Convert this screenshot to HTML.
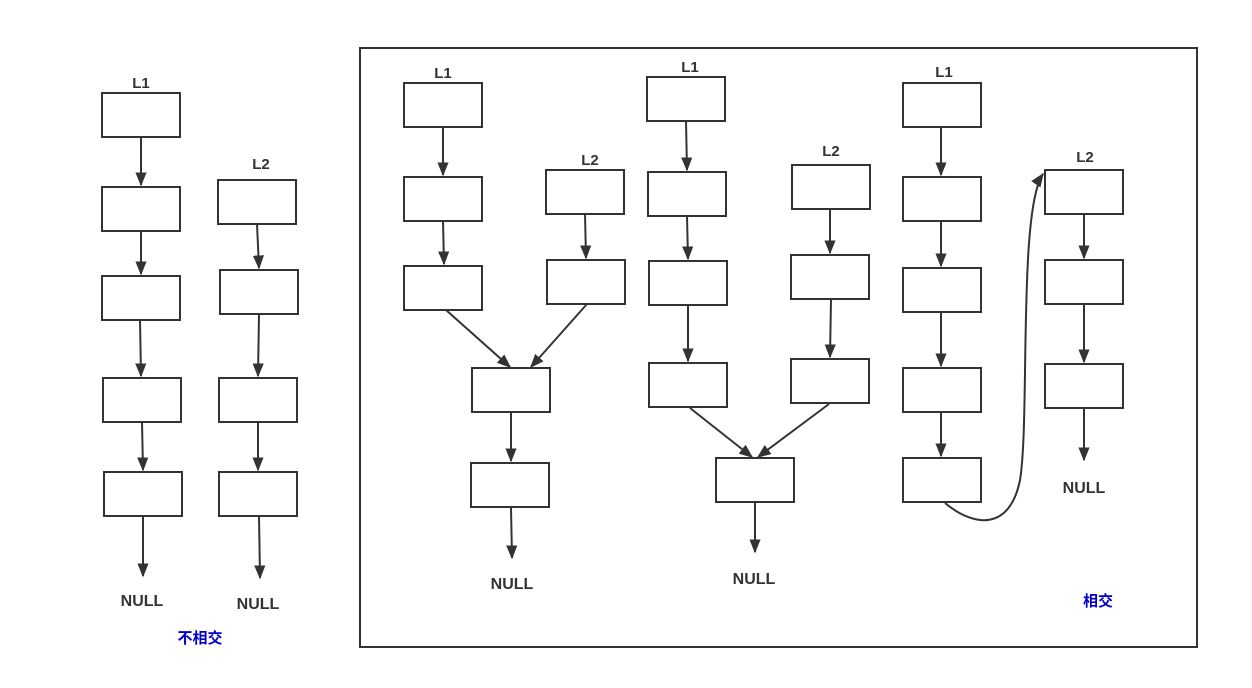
<!DOCTYPE html>
<html><head><meta charset="utf-8"><style>
html,body{margin:0;padding:0;background:#fff;width:1252px;height:688px;overflow:hidden}
text{font-family:"Liberation Sans","Noto Sans CJK SC",sans-serif;font-weight:bold}
</style></head><body>
<svg width="1252" height="688" viewBox="0 0 1252 688" xmlns="http://www.w3.org/2000/svg">
<defs><marker id="a" markerWidth="10" markerHeight="10" refX="9" refY="5" orient="auto" markerUnits="userSpaceOnUse"><path d="M0,0 L10,5 L0,10 Z" fill="#333"/></marker>
<marker id="b" viewBox="0 0 10 10" markerWidth="14" markerHeight="14" refX="9" refY="5" orient="auto" markerUnits="userSpaceOnUse"><path d="M0,1 L10,5 L0,9 Z" fill="#333"/></marker></defs>
<rect x="360" y="48" width="837" height="599" fill="none" stroke="#333" stroke-width="2"/>
<g fill="none" stroke="#333" stroke-width="2">
<rect x="102" y="93" width="78" height="44"/><rect x="102" y="187" width="78" height="44"/><rect x="102" y="276" width="78" height="44"/><rect x="103" y="378" width="78" height="44"/><rect x="104" y="472" width="78" height="44"/>
<rect x="218" y="180" width="78" height="44"/><rect x="220" y="270" width="78" height="44"/><rect x="219" y="378" width="78" height="44"/><rect x="219" y="472" width="78" height="44"/>
<rect x="404" y="83" width="78" height="44"/><rect x="404" y="177" width="78" height="44"/><rect x="404" y="266" width="78" height="44"/>
<rect x="546" y="170" width="78" height="44"/><rect x="547" y="260" width="78" height="44"/>
<rect x="472" y="368" width="78" height="44"/><rect x="471" y="463" width="78" height="44"/>
<rect x="647" y="77" width="78" height="44"/><rect x="648" y="172" width="78" height="44"/><rect x="649" y="261" width="78" height="44"/><rect x="649" y="363" width="78" height="44"/>
<rect x="792" y="165" width="78" height="44"/><rect x="791" y="255" width="78" height="44"/><rect x="791" y="359" width="78" height="44"/>
<rect x="716" y="458" width="78" height="44"/>
<rect x="903" y="83" width="78" height="44"/><rect x="903" y="177" width="78" height="44"/><rect x="903" y="268" width="78" height="44"/><rect x="903" y="368" width="78" height="44"/><rect x="903" y="458" width="78" height="44"/>
<rect x="1045" y="170" width="78" height="44"/><rect x="1045" y="260" width="78" height="44"/><rect x="1045" y="364" width="78" height="44"/>
</g>
<g stroke="#333" stroke-width="2" fill="none" marker-end="url(#b)">
<path d="M141,137L141,185"/><path d="M141,231L141,274"/><path d="M140,320L141,376"/><path d="M142,422L143,470"/><path d="M143,516L143,576"/>
<path d="M257,224L259,268"/><path d="M259,314L258,376"/><path d="M258,422L258,470"/><path d="M259,516L260,578"/>
<path d="M443,127L443,175"/><path d="M443,221L444,264"/><path d="M585,214L586,258"/><path d="M446,310L510,367"/><path d="M587,304L531,367"/><path d="M511,413L511,461"/><path d="M511,508L512,558"/>
<path d="M686,121L687,170"/><path d="M687,216L688,259"/><path d="M688,305L688,361"/><path d="M830,210L830,253"/><path d="M831,299L830,357"/><path d="M690,408L752,457"/><path d="M829,404L758,457"/><path d="M755,503L755,552"/>
<path d="M941,127L941,175"/><path d="M941,221L941,266"/><path d="M941,313L941,366"/><path d="M941,413L941,456"/>
<path d="M1084,214L1084,258"/><path d="M1084,304L1084,362"/><path d="M1084,408L1084,460"/>
<path d="M945,503C975,528 1010,530 1020,480C1030,420 1018,210 1043,174"/>
</g>
<g fill="#333" font-size="15" text-anchor="middle">
<text x="141" y="88">L1</text><text x="261" y="169">L2</text>
<text x="443" y="78">L1</text><text x="590" y="165">L2</text>
<text x="690" y="72">L1</text><text x="831" y="156">L2</text>
<text x="944" y="77">L1</text><text x="1085" y="162">L2</text>
<text x="142" y="606" font-size="16">NULL</text><text x="258" y="609" font-size="16">NULL</text>
<text x="512" y="589" font-size="16">NULL</text><text x="754" y="584" font-size="16">NULL</text><text x="1084" y="493" font-size="16">NULL</text>
</g>
<g fill="#0000cc" font-size="15" text-anchor="middle">
<text x="200" y="643">不相交</text><text x="1098" y="606">相交</text>
</g>
</svg>
</body></html>
